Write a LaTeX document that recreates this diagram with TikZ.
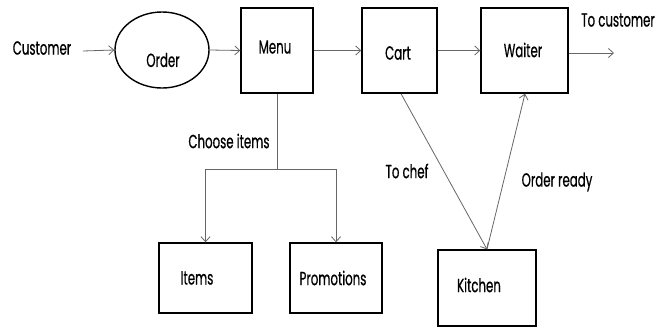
\documentclass[tikz,border=0pt]{standalone}
\usepackage{fontspec}
\setmainfont[FakeStretch=0.62,FakeBold=0.6]{Poppins}
\usetikzlibrary{arrows.meta,shapes.geometric}
\begin{document}
\begin{tikzpicture}[x=1pt,y=-1pt,
  box/.style={draw=black,line width=1.4pt,minimum width=#1,inner sep=0pt},
  lbl/.style={font=\fontsize{19}{21}\selectfont,inner sep=0pt,text=black},
  arr/.style={draw=black!60,line width=0.8pt,-{Straight Barb[length=5pt,width=9pt]}},
  ln/.style={draw=black!60,line width=0.8pt}]
\useasboundingbox (0,0) rectangle (656,327);
\node[lbl] (cust) at (42,48) {Customer};
\node[draw=black,line width=1.4pt,ellipse,minimum width=94pt,minimum height=76pt,inner sep=0pt] (order) at (162,50) {};
\node[lbl] at (163,60) {Order};
\node[box=72pt,minimum height=85pt] (menu) at (277,50.5) {};
\node[lbl] at (275,47) {Menu};
\node[box=75pt,minimum height=85pt] (cart) at (399.5,50.5) {};
\node[lbl] at (398,53) {Cart};
\node[box=87pt,minimum height=85pt] (waiter) at (524.5,50.5) {};
\node[lbl] at (523,50) {Waiter};
\node[lbl] (tocust) at (618,20) {To customer};
\coordinate (out) at (614,53);
\node[box=93pt,minimum height=70pt] (items) at (205.5,278) {};
\node[lbl] at (197,278) {Items};
\node[box=92pt,minimum height=70pt] (promo) at (336,278) {};
\node[lbl] at (333,278) {Promotions};
\node[box=98pt,minimum height=76pt] (kitchen) at (487,288) {};
\node[lbl] at (479,285) {Kitchen};
\node[lbl] (choose) at (229,141) {Choose items};
\node[lbl] (tochef) at (407,171) {To chef};
\node[lbl] (ready) at (557,182) {Order ready};
\coordinate (split) at (277,169);
\draw[arr] (83,51) -- (order.west);
\draw[arr] (order.east) -- (menu.west);
\draw[arr] (menu.east) -- (cart.west);
\draw[arr] (cart.east) -- (waiter.west);
\draw[arr] (waiter.east |- out) -- (out);
\draw[ln] (menu.south) -- (split);
\draw[arr] (split) -| (items.north);
\draw[arr] (split) -| (promo.north);
\draw[arr] (cart.south -| 401,0) -- (kitchen.north);
\draw[arr] (kitchen.north) -- (waiter.south -| 525,0);
\end{tikzpicture}
\end{document}
